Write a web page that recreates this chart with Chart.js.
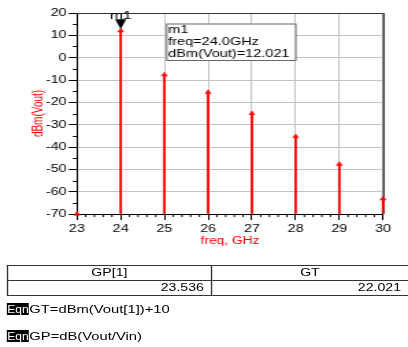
<!DOCTYPE html>
<html>
<head>
<meta charset="utf-8">
<script src="https://cdn.jsdelivr.net/npm/chart.js@4.4.0/dist/chart.umd.min.js"></script>
<style>
  html, body { margin: 0; padding: 0; background: #fff; overflow: hidden; }
  /* the reference is stretched horizontally, so draw narrow and scale */
  #page { position: absolute; left: 0; top: 0; width: 298px; height: 347px;
          transform: scaleX(1.3691); transform-origin: 0 0;
          font-family: "Liberation Sans", Arial, sans-serif; color: #000; }
  #chart { position: absolute; left: 0; top: 0; }
  #tbl { position: absolute; left: 4.9px; top: 265px; width: 294px;
         border-collapse: collapse; table-layout: fixed; font-size: 10.3px; }
  #tbl td { border: 1px solid #333; height: 14px; padding: 0 5px; line-height: 14px; white-space: nowrap; }
  #tbl .h { text-align: center; }
  #tbl .v { text-align: right; }
  .eqn { position: absolute; left: 4.9px; width: 15.8px; height: 12.6px; line-height: 13px;
         background: #000; color: #fff; font-size: 10.6px; overflow: hidden; }
  .eqn span { display: inline-block; transform: scaleX(0.83); transform-origin: 0 0; padding-left: 0.3px; }
  .eqt { position: absolute; left: 21.4px; height: 12.6px; line-height: 13px; font-size: 10.8px; }
</style>
</head>
<body>
<div id="page">
  <canvas id="chart" width="298" height="255"></canvas>
  <table id="tbl">
    <tr><td class="h" id="h0" style="width:138px"></td><td class="h" id="h1"></td></tr>
    <tr><td class="v" id="v0"></td><td class="v" id="v1"></td></tr>
  </table>
  <div class="eqn" style="top:302.7px"><span>Eqn</span></div><div class="eqt" id="eq0" style="top:302.7px"></div>
  <div class="eqn" style="top:329.7px"><span>Eqn</span></div><div class="eqt" id="eq1" style="top:329.7px"></div>
</div>
<script>
// spectrum lines, dBm(Vout) at each harmonic frequency
const freqs = [23, 24, 25, 26, 27, 28, 29, 30];
const dbmVout = [-70, 12.021, -7.7, -15.5, -25, -35.3, -47.7, -63.2];

const markerFreq = 24.0;
const markerValue = 12.021;
const markerLines = ['m1', 'freq=24.0GHz', 'dBm(Vout)=12.021'];

const tableHeaders = ['GP[1]', 'GT'];
const tableValues = ['23.536', '22.021'];
const equations = ['GT=dBm(Vout[1])+10', 'GP=dB(Vout/Vin)'];

document.getElementById('h0').textContent = tableHeaders[0];
document.getElementById('h1').textContent = tableHeaders[1];
document.getElementById('v0').textContent = tableValues[0];
document.getElementById('v1').textContent = tableValues[1];
document.getElementById('eq0').textContent = equations[0];
document.getElementById('eq1').textContent = equations[1];

Chart.defaults.font.family = '"Liberation Sans", Arial, sans-serif';
Chart.defaults.font.size = 10;
Chart.defaults.color = '#000';

const points = freqs.map((f, i) => ({ x: f, y: dbmVout[i] }));

const plotFrame = {
  id: 'plotFrame',
  beforeDatasetsDraw(chart) {
    const { ctx, chartArea: a } = chart;
    ctx.save();
    ctx.strokeStyle = '#333';
    ctx.lineWidth = 1;
    ctx.beginPath();
    ctx.moveTo(a.left, a.top + 0.5);
    ctx.lineTo(a.right, a.top + 0.5);
    ctx.stroke();
    ctx.strokeStyle = '#444';
    ctx.lineWidth = 1.5;
    ctx.beginPath();
    ctx.moveTo(a.right + 0.5, a.top);
    ctx.lineTo(a.right + 0.5, a.bottom);
    ctx.stroke();
    // minor ticks
    ctx.strokeStyle = '#000';
    ctx.lineWidth = 1;
    ctx.beginPath();
    for (let v = -65; v < 20; v += 10) {
      const py = Math.round(chart.scales.y.getPixelForValue(v)) + 0.5;
      ctx.moveTo(a.left - 3, py);
      ctx.lineTo(a.left, py);
    }
    for (let i = 1; i < 35; i++) {
      if (i % 5 === 0) continue;
      const px = chart.scales.x.getPixelForValue(23 + i * 0.2);
      ctx.moveTo(px, a.bottom);
      ctx.lineTo(px, a.bottom + 3);
    }
    ctx.stroke();
    ctx.restore();
  },
  afterDatasetsDraw(chart) {
    const { ctx, chartArea: a } = chart;
    const px = chart.scales.x.getPixelForValue(markerFreq);
    const py = chart.scales.y.getPixelForValue(markerValue);
    ctx.save();
    // marker triangle
    ctx.fillStyle = '#000';
    ctx.beginPath();
    ctx.moveTo(px - 4, py - 11.5);
    ctx.lineTo(px + 4, py - 11.5);
    ctx.lineTo(px, py - 1.5);
    ctx.closePath();
    ctx.fill();
    ctx.font = '11.5px "Liberation Sans", Arial, sans-serif';
    ctx.textAlign = 'center';
    ctx.textBaseline = 'alphabetic';
    ctx.fillText(markerLines[0], px, py - 12.3);
    // marker readout box
    const bx = px + 33.2, by = a.top + 10.5, bw = 94.2, bh = 36.5;
    ctx.fillStyle = '#fff';
    ctx.fillRect(bx, by, bw, bh);
    ctx.strokeStyle = '#666';
    ctx.lineWidth = 1;
    ctx.strokeRect(bx + 0.5, by + 0.5, bw, bh);
    ctx.fillStyle = '#000';
    ctx.textAlign = 'left';
    ctx.font = '10.6px "Liberation Sans", Arial, sans-serif';
    markerLines.forEach((t, i) => ctx.fillText(t, bx + 1.5, by + 9.5 + i * 12));
    ctx.restore();
  }
};

new Chart(document.getElementById('chart'), {
  type: 'scatter',
  data: {
    datasets: [
      {
        type: 'scatter',
        data: points,
        pointStyle: 'triangle',
        pointRadius: 2.5,
        backgroundColor: '#ff0000',
        borderColor: '#ff0000',
        borderWidth: 0.5,
        clip: false,
        order: 1
      },
      {
        type: 'bar',
        data: points,
        base: -70,
        barThickness: 1.2,
        backgroundColor: '#ff0000',
        borderWidth: 0,
        clip: false,
        order: 2
      }
    ]
  },
  options: {
    responsive: false,
    animation: false,
    devicePixelRatio: 1,
    layout: { padding: { left: 0, right: 18.2, top: 13, bottom: 0 } },
    plugins: { legend: { display: false }, tooltip: { enabled: false } },
    scales: {
      x: {
        type: 'linear',
        min: 23,
        max: 30,
        offset: false,
        ticks: { stepSize: 1, padding: 3, color: '#000', font: { size: 10.5 } },
        grid: { color: '#c4c4c4', tickColor: '#000', tickLength: 6, offset: false },
        border: { color: '#000', width: 1 },
        title: { display: true, text: 'freq, GHz', color: '#ff0000', font: { size: 10 }, padding: { top: 0, bottom: 8 } },
        afterFit(scale) { scale.height = 41; }
      },
      y: {
        min: -70,
        max: 20,
        ticks: { stepSize: 10, padding: 1.5, color: '#000', font: { size: 10.5 } },
        grid: { color: '#c4c4c4', tickColor: '#000', tickLength: 6 },
        border: { color: '#000', width: 1 },
        title: { display: true, text: 'dBm(Vout)', color: '#ff0000', font: { size: 10 }, padding: { top: 22, bottom: 0 } },
        afterFit(scale) { scale.width = 56.2; }
      }
    }
  },
  plugins: [plotFrame]
});
</script>
</body>
</html>
